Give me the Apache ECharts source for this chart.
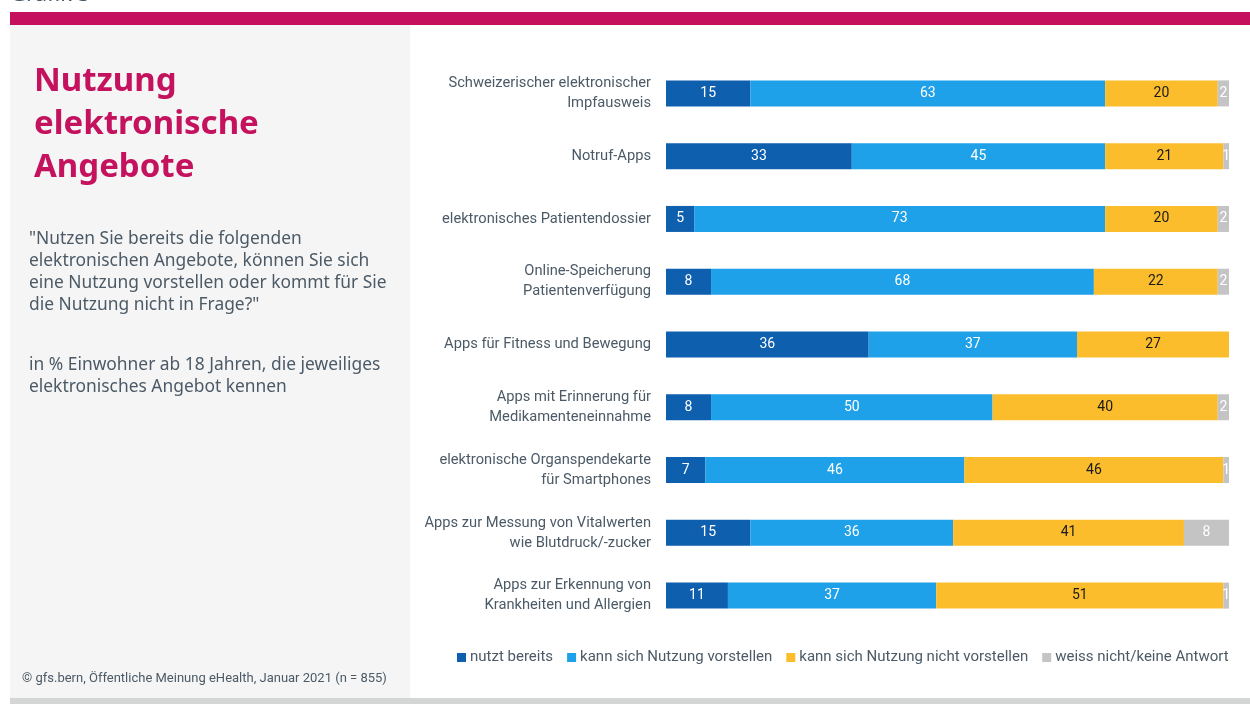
<!DOCTYPE html>
<html>
<head>
<meta charset="utf-8">
<script src="https://cdn.jsdelivr.net/npm/echarts@6/dist/echarts.min.js"></script>
<style>
  html, body { margin: 0; padding: 0; background: #fff; }
  #chart { width: 1250px; height: 704px; }
</style>
</head>
<body>
<div id="chart"></div>
<script>
// data
const categories = [
  "Schweizerischer elektronischer\nImpfausweis",
  "Notruf-Apps",
  "elektronisches Patientendossier",
  "Online-Speicherung\nPatientenverfügung",
  "Apps für Fitness und Bewegung",
  "Apps mit Erinnerung für\nMedikamenteneinnahme",
  "elektronische Organspendekarte\nfür Smartphones",
  "Apps zur Messung von Vitalwerten\nwie Blutdruck/-zucker",
  "Apps zur Erkennung von\nKrankheiten und Allergien"
];
const nutztBereits = [15, 33, 5, 8, 36, 8, 7, 15, 11];
const kannVorstellen = [63, 45, 73, 68, 37, 50, 46, 36, 37];
const nichtVorstellen = [20, 21, 20, 22, 27, 40, 46, 41, 51];
const weissNicht = [2, 1, 2, 2, 0, 2, 1, 8, 1];

const seriesNames = [
  "nutzt bereits",
  "kann sich Nutzung vorstellen",
  "kann sich Nutzung nicht vorstellen",
  "weiss nicht/keine Antwort"
];
const colors = ["#0e5fae", "#1ea1e9", "#fbbd2b", "#c4c4c4"];
const labelColors = ["#ffffff", "#ffffff", "#1a1a1a", "#ffffff"];

const narrow = "'Roboto', sans-serif";
const textGrey = "#4b5a66";

const myChart = echarts.init(document.getElementById("chart"));

function makeSeries(name, data, i) {
  return {
    name: name,
    type: "bar",
    stack: "total",
    barWidth: 26,
    data: data,
    itemStyle: { color: colors[i] },
    label: {
      show: true,
      position: "inside",
      color: labelColors[i],
      fontFamily: narrow,
      fontSize: 14,
      formatter: p => (p.value === 0 ? "" : p.value)
    }
  };
}

const option = {
  backgroundColor: "#ffffff",
  animation: false,
  graphic: [
    { type: "rect", shape: { x: 10, y: 12, width: 1240, height: 13 }, style: { fill: "#c5115d" }, z: -10 },
    { type: "rect", shape: { x: 10, y: 25, width: 400, height: 673 }, style: { fill: "#f5f5f5" }, z: -10 },
    { type: "rect", shape: { x: 10, y: 698, width: 1240, height: 6 }, style: { fill: "#d3d6d5" }, z: -10 },
    {
      type: "text", left: 10, top: -16,
      style: { text: "Grafik 5", fontSize: 22, fontFamily: "'Noto Sans', sans-serif", fill: "#4b5a66" }
    },
    {
      type: "text", x: 34, y: 60,
      style: {
        text: "Nutzung\nelektronische\nAngebote",
        fontSize: 33, fontWeight: "bold", lineHeight: 43,
        fontFamily: "'Noto Sans', sans-serif", fill: "#c4125e",
        verticalAlign: "top"
      }
    },
    {
      type: "text", x: 29, y: 228,
      style: {
        text: "\"Nutzen Sie bereits die folgenden\nelektronischen Angebote, können Sie sich\neine Nutzung vorstellen oder kommt für Sie\ndie Nutzung nicht in Frage?\"",
        fontSize: 17.4, lineHeight: 22,
        fontFamily: "'Noto Sans', sans-serif", fill: textGrey,
        verticalAlign: "top"
      }
    },
    {
      type: "text", x: 29, y: 354,
      style: {
        text: "in % Einwohner ab 18 Jahren, die jeweiliges\nelektronisches Angebot kennen",
        fontSize: 17.4, lineHeight: 22,
        fontFamily: "'Noto Sans', sans-serif", fill: textGrey,
        verticalAlign: "top"
      }
    },
    {
      type: "text", x: 22, y: 672,
      style: {
        text: "© gfs.bern, Öffentliche Meinung eHealth, Januar 2021 (n = 855)",
        fontSize: 13, fontFamily: narrow, fill: textGrey,
        verticalAlign: "top"
      }
    }
  ],
  legend: {
    left: 452,
    top: 645,
    icon: "rect",
    itemWidth: 9,
    itemHeight: 9,
    itemGap: 14,
    textStyle: { fontSize: 15, color: textGrey, fontFamily: narrow, padding: [0, 0, 0, -1] },
    data: seriesNames
  },
  grid: { left: 666, right: 21, top: 62, bottom: 77 },
  xAxis: {
    type: "value",
    min: 0,
    max: 100,
    show: false
  },
  yAxis: {
    type: "category",
    inverse: true,
    data: categories,
    axisLine: { show: false },
    axisTick: { show: false },
    axisLabel: {
      margin: 15,
      align: "right",
      color: textGrey,
      fontSize: 14.7,
      lineHeight: 20,
      fontFamily: narrow
    }
  },
  series: [
    makeSeries(seriesNames[0], nutztBereits, 0),
    makeSeries(seriesNames[1], kannVorstellen, 1),
    makeSeries(seriesNames[2], nichtVorstellen, 2),
    makeSeries(seriesNames[3], weissNicht, 3)
  ]
};

myChart.setOption(option);
</script>
</body>
</html>
